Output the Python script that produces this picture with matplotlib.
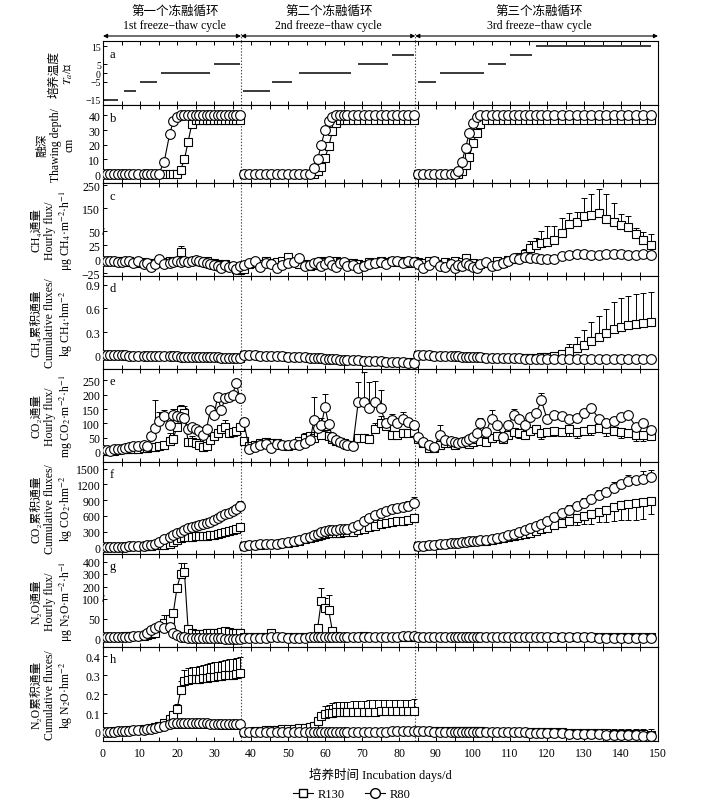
import matplotlib
matplotlib.use("Agg")
import numpy as np
import matplotlib.pyplot as plt
from matplotlib.lines import Line2D
from matplotlib.ticker import MultipleLocator

plt.rcParams.update({
    "font.family": ["Liberation Serif", "Noto Sans CJK SC", "DejaVu Serif"],
    "mathtext.fontset": "stix",
    "font.size": 8.5, "axes.linewidth": 0.8,
    "xtick.direction": "in", "ytick.direction": "in",
    "xtick.labelsize": 8.5, "ytick.labelsize": 8.5,
})

# ---- sampling days, one list per freeze-thaw cycle ----
D1 = [0, 1, 2, 3, 4, 5, 6, 7, 8, 9.5, 11, 12, 13, 14, 15, 16.5, 18, 19, 20, 21, 22, 23, 24, 25, 26,
      27, 28, 29, 30, 31, 32, 33, 34, 35, 36, 37]
D2 = [38, 39.5, 41, 42.5, 44, 45.5, 47, 48.5, 50, 51.5, 53, 54.5, 56, 57, 58, 59, 60, 61, 62, 63, 64,
      65, 66, 67.5, 69, 70.5, 72, 73.5, 75, 76.5, 78, 79.5, 81, 82.5, 84]
D3 = [85, 86.5, 88, 89.5, 91, 92.5, 94, 95, 96, 97, 98, 99, 100, 101, 102, 103.5, 105, 106.5, 108,
      109.5, 111, 112.5, 114, 115.5, 117, 118.5, 120, 122, 124, 126, 128, 130, 132, 134, 136, 138,
      140, 142, 144, 146, 148]
CYCLE_EDGES = [37.3, 84.4]

# ---- (a) incubation temperature steps ----
TEMP = [-15, -10, -5, 0, 5, -10, -5, 0, 5, 10, -5, 0, 5, 10, 15]
TEMP_START = [0, 5.8, 10, 15.7, 29.9, 37.9, 45.8, 52.9, 68.8, 78, 85, 91, 104, 110, 117]
TEMP_END = [4, 8.8, 14.7, 28.8, 37, 45, 51, 67, 76.9, 84, 90, 103, 109, 116, 148]

# ---- (b) thawing depth, cm ----
DEPTH_R130 = ([0] * 19 + [3, 10, 22, 34] + [37] * 13
              + [0] * 14 + [2, 5, 11, 19, 29, 35] + [37] * 15
              + [0] * 9 + [2, 6, 12, 21, 28, 34] + [37] * 26)
DEPTH_R80 = ([0] * 15 + [8, 27, 36, 39] + [40] * 17
             + [0] * 13 + [4, 10, 20, 30, 36, 39] + [40] * 16
             + [0] * 8 + [2, 8, 18, 28, 35, 39] + [40] * 27)

# ---- (c) CH4 hourly flux ----
CH4_R130 = ([-3, -3, -3, -3, -4, -4, -5, -4, -5, -6, -5, -6, -7, -6, -5, -5, -4, -5, -3, 12,
             -3, -4, -3, -3, -4, -5, -4, -6, -7, -8, -10, -9, -12, -14, -18, -20]
            + [-18, -8, -6, -8, -4, -6, -5, -4, 3, -5, -8, -8, -12, -10, -6, -4, -5, -6, -8, -4,
               -5, -6, -6, -7, -8, -10, -5, -6, -4, -5, -4, -5, -4, -6, -4]
            + [-5, -6, -4, -3, -8, -5, -6, -4, -10, -5, 2, -8, -6, -12, -8, -6, -10, -4, -6, -2,
               0, 3, 10, 20, 26, 28, 30, 34, 46, 80, 90, 117, 122, 127, 101, 90, 78, 66, 45, 34, 26])
CH4_R80 = ([-3, -3, -3, -3, -5, -5, -4, -4, -7, -4, -8, -6, -14, -8, 1, -8, -6, -5, -4, -5,
            -4, -5, -3, -2, -4, -5, -6, -8, -10, -12, -15, -10, -14, -12, -17, -12]
           + [-10, -6, -4, -14, -6, -9, -16, -10, -6, -5, 2, -12, -10, -6, -5, -12, -8, -4, -10, -14,
              -6, -5, -12, -10, -15, -13, -8, -6, -5, -9, -4, -4, -6, -4, -5]
           + [-8, -16, -10, -4, -12, -14, -8, -16, -10, -12, -6, -10, -14, -16, -8, -5, -12, -10, -6, -4,
              2, 0, 3, 2, 2, 0, 0, 1, 5, 8, 10, 9, 8, 8, 9, 9, 10, 8, 7, 10, 7])
CH4_R130_ERR = {21: 12, 50: 5, 57: 5, 61: 4, 112.5: 4, 114: 8, 115.5: 12, 117: 11, 118.5: 24,
                120: 40, 122: 36, 124: 60, 126: 50, 128: 45, 130: 75, 132: 90, 134: 105, 136: 110,
                138: 80, 140: 45, 142: 50, 144: 20, 146: 15, 148: 18}

# ---- (d) CH4 cumulative flux ----
CH4C_R130 = ([0.01, 0.01, 0.01, 0.008, 0.008, 0.006, 0.006, 0.004, 0.004, 0.002, 0.002, 0.0, 0.0,
              -0.002, -0.002, -0.004, -0.005, -0.006, -0.007, -0.008, -0.01, -0.011, -0.012, -0.013,
              -0.014, -0.015, -0.016, -0.017, -0.018, -0.019, -0.02, -0.021, -0.022, -0.024, -0.026, -0.028]
             + [0.01, 0.008, 0.006, 0.004, 0.002, 0.0, -0.003, -0.006, -0.009, -0.012, -0.015, -0.018,
                -0.021, -0.024, -0.027, -0.03, -0.033, -0.036, -0.039, -0.042, -0.045, -0.048, -0.051,
                -0.054, -0.057, -0.06, -0.063, -0.066, -0.069, -0.072, -0.075, -0.078, -0.08, -0.082, -0.085]
             + [0.01, 0.008, 0.006, 0.004, 0.002, 0.0, -0.002, -0.004, -0.006, -0.008, -0.01, -0.012,
                -0.014, -0.016, -0.018, -0.02, -0.022, -0.024, -0.026, -0.028, -0.03, -0.03, -0.028,
                -0.025, -0.02, -0.015, -0.01, 0.0, 0.02, 0.06, 0.10, 0.14, 0.19, 0.24, 0.29, 0.34,
                0.37, 0.39, 0.40, 0.41, 0.43])
CH4C_R80 = ([0.01, 0.01, 0.01, 0.008, 0.008, 0.006, 0.006, 0.004, 0.004, 0.002, 0.002, 0.0, 0.0,
             -0.002, -0.002, -0.004, -0.005, -0.006, -0.007, -0.008, -0.01, -0.011, -0.012, -0.013,
             -0.014, -0.015, -0.016, -0.017, -0.018, -0.019, -0.02, -0.022, -0.024, -0.026, -0.028, -0.03]
            + [0.01, 0.008, 0.006, 0.004, 0.002, 0.0, -0.003, -0.006, -0.009, -0.012, -0.015, -0.018,
               -0.021, -0.024, -0.027, -0.03, -0.033, -0.036, -0.039, -0.042, -0.045, -0.048, -0.051,
               -0.054, -0.057, -0.06, -0.063, -0.066, -0.069, -0.072, -0.075, -0.078, -0.081, -0.084, -0.087]
            + [0.01, 0.008, 0.006, 0.004, 0.002, 0.0, -0.002, -0.004, -0.006, -0.008, -0.01, -0.012,
               -0.014, -0.016, -0.018, -0.02, -0.022, -0.024, -0.026, -0.028, -0.03, -0.032, -0.034,
               -0.036, -0.038, -0.04, -0.04, -0.042, -0.042, -0.042, -0.043, -0.043, -0.043, -0.043,
               -0.043, -0.042, -0.042, -0.041, -0.041, -0.04, -0.04])
CH4C_R130_ERR = {118.5: 0.005, 120: 0.01, 122: 0.02, 124: 0.05, 126: 0.09, 128: 0.14, 130: 0.19,
                 132: 0.24, 134: 0.27, 136: 0.30, 138: 0.34, 140: 0.36, 142: 0.37, 144: 0.38,
                 146: 0.38, 148: 0.38}

# ---- (e) CO2 hourly flux ----
CO2_R130 = ([5, 5, 8, 5, 8, 10, 10, 12, 12, 12, 15, 15, 18, 18, 22, 23, 40, 47, 88, 145,
             135, 35, 35, 30, 23, 18, 20, 41, 55, 65, 82, 88, 65, 70, 75, 88]
            + [40, 20, 25, 30, 35, 30, 30, 25, 20, 25, 40, 50, 55, 50, 70, 60, 90, 55, 45, 40,
               35, 30, 25, 25, 50, 48, 45, 80, 100, 90, 60, 60, 65, 65, 70]
            + [45, 30, 15, 15, 25, 30, 30, 25, 30, 35, 30, 28, 35, 45, 40, 35, 50, 55, 45, 60,
               70, 65, 60, 75, 80, 65, 70, 75, 70, 80, 70, 75, 80, 85, 80, 75, 70, 65, 60, 60, 55])
CO2_R80 = ([8, 6, 2, 10, 12, 10, 15, 18, 20, 22, 25, 22, 55, 85, 110, 125, 95, 130, 125, 122,
            120, 82, 86, 80, 75, 60, 82, 147, 130, 192, 147, 190, 193, 200, 240, 190]
           + [106, 12, 18, 23, 27, 14, 29, 23, 23, 29, 23, 32, 43, 111, 85, 94, 156, 97, 53, 43,
              35, 29, 23, 20, 176, 173, 153, 173, 153, 100, 111, 102, 114, 106, 94]
           + [53, 35, 23, 18, 59, 43, 39, 35, 32, 35, 39, 45, 53, 65, 100, 70, 117, 94, 53, 94,
              129, 117, 94, 123, 135, 180, 115, 129, 126, 117, 120, 135, 153, 117, 100, 110, 123,
              129, 88, 100, 76])
CO2_R130_ERR = {18: 25, 19: 40, 20: 15, 21: 20, 22: 20, 23: 15, 24: 20, 28: 15, 29: 20, 33: 25,
                37: 15, 54.5: 15, 58: 20, 60: 20, 73.5: 20, 75: 25}
CO2_R130_ERR_LO = {109.5: 15, 112.5: 15, 118.5: 20, 122: 20, 126: 25, 128: 20, 132: 20, 136: 25,
                   140: 20, 144: 20, 146: 20}
CO2_R80_ERR = {13: 15, 14: 95, 15: 30, 16.5: 20, 19: 20, 20: 25, 22: 40, 29: 15, 31: 15, 36: 15,
               57: 80, 59: 25, 60: 45, 69: 70, 70.5: 105, 72: 90, 73.5: 75, 75: 65, 78: 20, 81: 25,
               91: 35, 101: 15, 102: 20, 105: 30, 111: 20, 118.5: 25, 130: 15, 132: 10, 136: 12,
               142: 10}

# ---- (f) CO2 cumulative flux ----
CO2C_R130 = ([0, 2, 4, 6, 8, 10, 12, 14, 16, 18, 21, 25, 30, 35, 40, 50, 70, 100, 140, 170,
              190, 195, 200, 205, 210, 215, 220, 230, 240, 255, 270, 290, 310, 330, 350, 380]
             + [30, 38, 45, 50, 55, 60, 65, 75, 85, 100, 120, 150, 180, 200, 220, 240, 255, 265, 270,
                275, 280, 285, 290, 300, 320, 350, 380, 410, 440, 460, 480, 500, 510, 530, 550]
             + [20, 30, 40, 50, 60, 70, 80, 85, 90, 95, 100, 105, 110, 115, 120, 125, 135, 150, 170,
                190, 210, 230, 250, 280, 310, 340, 370, 420, 470, 510, 550, 590, 630, 680, 720, 770,
                800, 830, 850, 870, 890])
CO2C_R80 = ([0, 2, 4, 6, 8, 10, 12, 15, 18, 22, 28, 35, 45, 70, 100, 150, 190, 230, 265, 300,
             330, 360, 385, 405, 420, 440, 460, 490, 520, 550, 590, 630, 660, 700, 740, 790]
            + [30, 40, 50, 55, 60, 65, 70, 80, 95, 110, 140, 170, 200, 230, 260, 290, 310, 320, 330,
               335, 340, 345, 350, 380, 430, 500, 560, 620, 660, 700, 730, 750, 760, 790, 840]
            + [20, 30, 40, 50, 60, 70, 80, 85, 90, 95, 100, 110, 115, 120, 130, 140, 150, 170, 200,
               230, 260, 300, 330, 370, 410, 450, 500, 580, 650, 720, 780, 850, 920, 990, 1060,
               1130, 1200, 1260, 1290, 1310, 1340])
CO2C_R80_ERR = {33: 40, 34: 50, 35: 60, 36: 70, 37: 90, 73.5: 60, 75: 70, 78: 75, 79.5: 80,
                81: 90, 82.5: 100, 84: 120, 112.5: 40, 115.5: 60, 118.5: 70, 122: 80, 126: 90,
                130: 100, 134: 110, 138: 120, 142: 130, 146: 150, 148: 140}
CO2C_R130_ERR_LO = {120: 50, 124: 80, 128: 120, 130: 150, 132: 180, 134: 200, 136: 230,
                    138: 260, 140: 280, 142: 300, 144: 320, 146: 330, 148: 250}

# ---- (g) N2O hourly flux ----
N2O_R130 = ([5, 5, 5, 6, 6, 6, 7, 7, 8, 8, 8, 10, 12, 15, 30, 40, 50, 65, 190, 300,
             320, 25, 15, 12, 12, 13, 14, 14, 15, 15, 18, 20, 18, 16, 15, 15]
            + [6, 6, 6, 5, 5, 16, 6, 6, 5, 5, 5, 5, 5, 5, 27, 95, 78, 72, 20, 8,
               6, 6, 6, 6, 6, 8, 6, 6, 6, 5, 5, 5, 5, 5, 5]
            + [5, 5, 5, 5, 5, 4, 4, 5, 5, 5, 5, 5, 5, 5, 5, 5, 5, 5, 5, 5,
               5, 6, 6, 6, 6, 6, 5, 5, 5, 5, 5, 5, 5, 5, 5, 5, 5, 5, 5, 5, 5])
N2O_R80 = ([4, 4, 4, 5, 5, 5, 6, 6, 7, 8, 10, 14, 23, 27, 32, 27, 30, 14, 9, 6,
            4, 3, 3, 3, 3, 3, 3, 3, 2, 2, 2, 1, 1, 0, 0, 1]
           + [3, 3, 3, 3, 3, 4, 4, 4, 3, 3, 3, 3, 4, 4, 5, 5, 4, 4, 4, 4,
              4, 4, 4, 5, 5, 5, 5, 5, 5, 5, 6, 6, 8, 8, 8]
           + [6, 5, 4, 4, 4, 4, 4, 4, 5, 5, 5, 5, 5, 4, 4, 4, 4, 4, 4, 4,
              4, 4, 4, 4, 4, 4, 4, 4, 4, 4, 4, 4, 4, 3, 3, 3, 3, 3, 3, 3, 3])
N2O_R130_ERR = {15: 5, 16.5: 20, 18: 10, 19: 10, 20: 20, 21: 90, 22: 70, 23: 5,
                58: 5, 59: 95, 60: 30, 61: 60, 62: 5}

# ---- (h) N2O cumulative flux ----
N2OC_R130 = ([0, 0, 0.002, 0.003, 0.004, 0.005, 0.006, 0.008, 0.01, 0.012, 0.015, 0.018, 0.022,
              0.026, 0.03, 0.05, 0.07, 0.09, 0.12, 0.22, 0.27, 0.275, 0.278, 0.28, 0.283, 0.286,
              0.288, 0.29, 0.292, 0.295, 0.297, 0.30, 0.302, 0.304, 0.307, 0.31]
             + [0, 0.002, 0.004, 0.006, 0.008, 0.01, 0.012, 0.014, 0.016, 0.018, 0.02, 0.022, 0.025,
                0.03, 0.06, 0.085, 0.095, 0.10, 0.102, 0.104, 0.105, 0.106, 0.106, 0.107, 0.107,
                0.108, 0.108, 0.108, 0.109, 0.109, 0.109, 0.11, 0.11, 0.11, 0.11]
             + [0.005, 0.005, 0.005, 0.005, 0.005, 0.004, 0.004, 0.004, 0.004, 0.004, 0.003, 0.003,
                0.003, 0.003, 0.003, 0.002, 0.002, 0.002, 0.002, 0.002, 0.001, 0.001, 0.001, 0.0,
                0.0, 0.0, 0.0, -0.001, -0.002, -0.003, -0.004, -0.005, -0.006, -0.007, -0.008,
                -0.009, -0.01, -0.011, -0.012, -0.013, -0.014])
N2OC_R80 = ([0, 0, 0.001, 0.002, 0.003, 0.004, 0.005, 0.006, 0.008, 0.01, 0.012, 0.015, 0.018,
             0.022, 0.026, 0.032, 0.04, 0.045, 0.046, 0.046, 0.046, 0.046, 0.046, 0.045, 0.045,
             0.045, 0.045, 0.044, 0.044, 0.044, 0.043, 0.043, 0.042, 0.042, 0.041, 0.04]
            + [0] * 29 + [0.002, 0.003, 0.004, 0.005, 0.006, 0.006]
            + [0.005, 0.004, 0.003, 0.002, 0.002, 0.001, 0.001] + [0] * 15
            + [-0.002, -0.003, -0.004, -0.005, -0.006, -0.007, -0.008, -0.009, -0.01, -0.011,
               -0.012, -0.013, -0.014, -0.015, -0.016, -0.017, -0.018, -0.019, -0.02])
N2OC_R130_ERR = {18: 0.01, 19: 0.02, 20: 0.03, 21: 0.05, 22: 0.06, 23: 0.062, 24: 0.064,
                 25: 0.066, 26: 0.068, 27: 0.07, 28: 0.072, 29: 0.074, 30: 0.076, 31: 0.078,
                 32: 0.08, 33: 0.082, 34: 0.084, 35: 0.085, 36: 0.086, 37: 0.087,
                 58: 0.01, 59: 0.02, 60: 0.04, 61: 0.045, 62: 0.05, 63: 0.052, 64: 0.053,
                 65: 0.054, 66: 0.055, 67.5: 0.056, 69: 0.057, 70.5: 0.058, 72: 0.059, 73.5: 0.06,
                 75: 0.06, 76.5: 0.06, 78: 0.06, 79.5: 0.06, 81: 0.06, 82.5: 0.06, 84: 0.062,
                 111: 0.015, 112.5: 0.015, 114: 0.016, 115.5: 0.016, 117: 0.017, 118.5: 0.017,
                 120: 0.018, 122: 0.019, 124: 0.02, 126: 0.021, 128: 0.022, 130: 0.023,
                 132: 0.024, 134: 0.025, 136: 0.026, 138: 0.027, 140: 0.028, 142: 0.029,
                 144: 0.03, 146: 0.03, 148: 0.03}
N2OC_R80_ERR_LO = {18: 0.02, 19: 0.025, 20: 0.025, 21: 0.025, 22: 0.025, 23: 0.025, 24: 0.025,
                   25: 0.025, 26: 0.025, 27: 0.025, 28: 0.025, 29: 0.025, 30: 0.025, 31: 0.025,
                   32: 0.025, 33: 0.025, 34: 0.025, 35: 0.025, 36: 0.025, 37: 0.025}

DAYS = D1 + D2 + D3
CUTS = [0, len(D1), len(D1) + len(D2), len(DAYS)]
for name, s in [("DEPTH_R130", DEPTH_R130), ("DEPTH_R80", DEPTH_R80), ("CH4_R130", CH4_R130),
                ("CH4_R80", CH4_R80), ("CH4C_R130", CH4C_R130), ("CH4C_R80", CH4C_R80),
                ("CO2_R130", CO2_R130), ("CO2_R80", CO2_R80), ("CO2C_R130", CO2C_R130),
                ("CO2C_R80", CO2C_R80), ("N2O_R130", N2O_R130), ("N2O_R80", N2O_R80),
                ("N2OC_R130", N2OC_R130), ("N2OC_R80", N2OC_R80)]:
    assert len(s) == len(DAYS), (name, len(s), len(DAYS))


def draw(ax, r130, r80):
    for i in range(3):
        sl = slice(CUTS[i], CUTS[i + 1])
        ax.plot(DAYS[sl], r130[sl], "-", color="black", lw=0.8, marker="s", ms=5.5,
                mfc="white", mec="black", mew=0.8, zorder=3)
    for i in range(3):
        sl = slice(CUTS[i], CUTS[i + 1])
        ax.plot(DAYS[sl], r80[sl], "-", color="black", lw=0.8, marker="o", ms=7,
                mfc="white", mec="black", mew=0.8, zorder=4)


def bars(ax, vals, err, down=False):
    xs = list(err)
    ys = [vals[DAYS.index(d)] for d in xs]
    e = [err[d] for d in xs]
    z = [0] * len(e)
    ax.errorbar(xs, ys, yerr=[e, z] if down else [z, e], fmt="none", ecolor="black",
                elinewidth=0.7, capsize=2.2, capthick=0.7, zorder=2)


def broken(cut, k):
    fwd = lambda y: np.where(y <= cut, y, cut + (y - cut) * k)
    inv = lambda t: np.where(t <= cut, t, cut + (t - cut) / k)
    return fwd, inv


W, H = 704, 804
L, R = 103, 658
ROWS = [(42, 106), (106, 184), (184, 277), (277, 370), (370, 463), (463, 555), (555, 648), (648, 742)]
fig = plt.figure(figsize=(W / 100, H / 100), dpi=100)
axes = [fig.add_axes([L / W, 1 - b / H, (R - L) / W, (b - t) / H]) for t, b in ROWS]
ax_a, ax_b, ax_c, ax_d, ax_e, ax_f, ax_g, ax_h = axes

ax_a.hlines(TEMP, TEMP_START, TEMP_END, color="#2a2a2a", lw=1.3)

draw(ax_b, DEPTH_R130, DEPTH_R80)

ax_c.set_yscale("function", functions=broken(50, 0.41))
bars(ax_c, CH4_R130, CH4_R130_ERR)
draw(ax_c, CH4_R130, CH4_R80)

bars(ax_d, CH4C_R130, CH4C_R130_ERR)
draw(ax_d, CH4C_R130, CH4C_R80)

bars(ax_e, CO2_R130, CO2_R130_ERR)
bars(ax_e, CO2_R130, CO2_R130_ERR_LO, down=True)
bars(ax_e, CO2_R80, CO2_R80_ERR)
draw(ax_e, CO2_R130, CO2_R80)

bars(ax_f, CO2C_R80, CO2C_R80_ERR)
bars(ax_f, CO2C_R130, CO2C_R130_ERR_LO, down=True)
draw(ax_f, CO2C_R130, CO2C_R80)

ax_g.set_yscale("function", functions=broken(100, 0.3125))
bars(ax_g, N2O_R130, N2O_R130_ERR)
draw(ax_g, N2O_R130, N2O_R80)

bars(ax_h, N2OC_R130, N2OC_R130_ERR)
bars(ax_h, N2OC_R80, N2OC_R80_ERR_LO, down=True)
draw(ax_h, N2OC_R130, N2OC_R80)

LIMS = [(-18, 18), (-6, 47), (-30, 259), (-0.165, 1.01), (-35, 290), (-130, 1630), (-20, 460),
        (-0.048, 0.45)]
TICKS = [([-15, -5, 0, 5, 15], ["\u221215", "\u22125", "0", "5", "15"]),
         ([0, 10, 20, 30, 40], None),
         ([-25, 0, 25, 50, 150, 250], ["\u221225", "0", "25", "50", "150", "250"]),
         ([0, 0.3, 0.6, 0.9], ["0", "0.3", "0.6", "0.9"]),
         ([0, 50, 100, 150, 200, 250], None),
         ([0, 300, 600, 900, 1200, 1500], None),
         ([0, 50, 100, 200, 300, 400], None),
         ([0, 0.1, 0.2, 0.3, 0.4], ["0", "0.1", "0.2", "0.3", "0.4"])]
# Chinese lines use unicode subscripts (no mathtext), unit lines use mathtext
YLABELS = ["培养温度\n$T_a$/℃",
           "融深\nThawing depth/\ncm",
           "CH₄通量\nHourly flux/\nμg CH$_4$·m$^{-2}$·h$^{-1}$",
           "CH₄累积通量\nCumulative fluxes/\nkg CH$_4$·hm$^{-2}$",
           "CO₂通量\nHourly flux/\nmg CO$_2$·m$^{-2}$·h$^{-1}$",
           "CO₂累积通量\nCumulative fluxes/\nkg CO$_2$·hm$^{-2}$",
           "N₂O通量\nHourly flux/\nμg N$_2$O·m$^{-2}$·h$^{-1}$",
           "N₂O累积通量\nCumulative fluxes/\nkg N$_2$O·hm$^{-2}$"]

for i, ax in enumerate(axes):
    ax.set_xlim(0, 150)
    ax.set_ylim(*LIMS[i])
    t, lab = TICKS[i]
    if lab is None:
        ax.set_yticks(t)
    else:
        ax.set_yticks(t, lab)
    ax.yaxis.set_minor_locator(matplotlib.ticker.NullLocator())
    ax.xaxis.set_major_locator(MultipleLocator(10))
    ax.xaxis.set_minor_locator(MultipleLocator(5))
    ax.tick_params(axis="x", which="both", top=True, bottom=True, length=3, width=0.7,
                   labelbottom=(ax is ax_h), pad=4)
    ax.tick_params(axis="y", length=3, width=0.7, pad=2)
    for d in CYCLE_EDGES:
        ax.axvline(d, ls=(0, (1.2, 1.6)), lw=0.8, color="#444444", zorder=1)
    ax.set_ylabel(YLABELS[i], fontsize=8.5, linespacing=1.15)
    ax.yaxis.set_label_coords(-0.05, 0.5)
    ax.annotate("abcdefgh"[i], xy=(0, 1), xycoords="axes fraction", xytext=(5, -9),
                textcoords="offset points", va="center", ha="left", fontsize=9)

# the crowded temperature ticks get a smaller size
ax_a.tick_params(axis="y", labelsize=7, pad=1.5)

# axis-break marks on the broken scales
ax_c.text(0, 50, "/", transform=ax_c.get_yaxis_transform(), ha="center", va="center", fontsize=7)
ax_g.text(0, 100, "/", transform=ax_g.get_yaxis_transform(), ha="center", va="center", fontsize=7)

ax_h.set_xlabel("培养时间 Incubation days/d", fontsize=9, labelpad=6)

# ---- header: cycle arrows and titles ----
hax = fig.add_axes([L / W, 1 - 42 / H, (R - L) / W, 42 / H])
hax.set_xlim(0, 150); hax.set_ylim(0, 42); hax.axis("off")
spans = [(0, CYCLE_EDGES[0]), (CYCLE_EDGES[0], CYCLE_EDGES[1]), (CYCLE_EDGES[1], 150)]
titles = [("第一个冻融循环", "1st freeze\u2212thaw cycle", 19.4),
          ("第二个冻融循环", "2nd freeze\u2212thaw cycle", 61),
          ("第三个冻融循环", "3rd freeze\u2212thaw cycle", 118)]
for (a, b), (cn, en, xc) in zip(spans, titles):
    hax.annotate("", xy=(b, 5), xytext=(a, 5), annotation_clip=False,
                 arrowprops=dict(arrowstyle="<|-|>", mutation_scale=6, lw=0.8, color="black",
                                 shrinkA=0, shrinkB=0))
    hax.text(xc, 30, cn, ha="center", va="center", fontsize=9)
    hax.text(xc, 16, en, ha="center", va="center", fontsize=8.5)
for d in CYCLE_EDGES:
    hax.plot([d, d], [0, 8], ls=(0, (1.2, 1.6)), lw=0.8, color="#444444", clip_on=False)

handles = [Line2D([], [], color="black", lw=0.8, marker="s", ms=5.5, mfc="white", mec="black"),
           Line2D([], [], color="black", lw=0.8, marker="o", ms=7, mfc="white", mec="black")]
fig.legend(handles, ["R130", "R80"], loc="center", bbox_to_anchor=(352 / W, 1 - 795 / H), ncol=2,
           frameon=False, handlelength=1.6, columnspacing=1.6, handletextpad=0.4, fontsize=9)

fig.savefig("out.png", dpi=100)
